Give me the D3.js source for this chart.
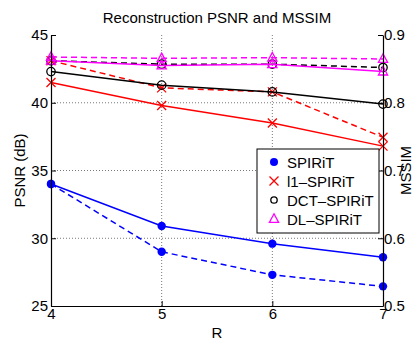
<!DOCTYPE html>
<html>
<head>
<meta charset="utf-8">
<script src="https://cdn.jsdelivr.net/npm/d3@7"></script>
<style>
  body { margin: 0; background: #fff; }
  svg { display: block; font-family: "Liberation Sans", Arial, sans-serif; }
</style>
</head>
<body>
<div id="chart"></div>
<script>
// R values on the x axis
const rValues = [4, 5, 6, 7];

// PSNR (dB), solid lines, left axis
const psnrSpirit = [34.0, 30.9, 29.6, 28.6];
const psnrL1 = [41.5, 39.8, 38.5, 36.8];
const psnrDct = [42.3, 41.3, 40.8, 39.9];
const psnrDl = [43.1, 42.75, 42.85, 42.3];

// MSSIM, dashed lines, right axis
const mssimSpirit = [0.680, 0.580, 0.546, 0.529];
const mssimL1 = [0.862, 0.822, 0.816, 0.749];
const mssimDct = [0.862, 0.857, 0.857, 0.852];
const mssimDl = [0.8675, 0.8656, 0.8665, 0.8646];

const seriesNames = ["SPIRiT", "l1\u2013SPIRiT", "DCT\u2013SPIRiT", "DL\u2013SPIRiT"];
const leftTicks = [25, 30, 35, 40, 45];
const rightTicks = [0.5, 0.6, 0.7, 0.8, 0.9];

const width = 416, height = 343;
const marginTop = 35, marginRight = 33, marginBottom = 37, marginLeft = 51;

const x = d3.scaleLinear().domain([4, 7]).range([marginLeft, width - marginRight]);
const yL = d3.scaleLinear().domain([25, 45]).range([height - marginBottom, marginTop]);
const yR = d3.scaleLinear().domain([0.5, 0.9]).range([height - marginBottom, marginTop]);

const styles = [
  { color: "#0000ff", marker: "dot" },
  { color: "#ff0000", marker: "x" },
  { color: "#000000", marker: "circle" },
  { color: "#ff00ff", marker: "tri" }
];

const psnr = [psnrSpirit, psnrL1, psnrDct, psnrDl];
const mssim = [mssimSpirit, mssimL1, mssimDct, mssimDl];

const svg = d3.select("#chart").append("svg")
  .attr("width", width)
  .attr("height", height);

// grid
const grid = svg.append("g")
  .attr("stroke", "#555")
  .attr("stroke-width", 0.8)
  .attr("stroke-dasharray", "1,2");
grid.selectAll("line.v")
  .data([5, 6])
  .join("line")
    .attr("x1", d => x(d)).attr("x2", d => x(d))
    .attr("y1", marginTop).attr("y2", height - marginBottom);
grid.selectAll("line.h")
  .data([30, 35, 40])
  .join("line")
    .attr("x1", marginLeft).attr("x2", width - marginRight)
    .attr("y1", d => yL(d)).attr("y2", d => yL(d));

function drawMarker(g, type, color) {
  if (type === "dot") {
    g.append("circle").attr("r", 4.2).attr("fill", color);
  } else if (type === "x") {
    g.append("path").attr("d", "M-4.5,-4.5L4.5,4.5M-4.5,4.5L4.5,-4.5")
      .attr("stroke", color).attr("stroke-width", 1.3).attr("fill", "none");
  } else if (type === "circle") {
    g.append("circle").attr("r", 4.2).attr("fill", "none")
      .attr("stroke", color).attr("stroke-width", 1.3);
  } else {
    g.append("path").attr("d", "M0,-5.2L4.6,3.4L-4.6,3.4Z").attr("fill", "none")
      .attr("stroke", color).attr("stroke-width", 1.3);
  }
}

function drawSeries(values, yScale, style, dashed) {
  const pts = values.map((v, i) => [x(rValues[i]), yScale(v)]);
  svg.append("path")
    .attr("d", d3.line()(pts))
    .attr("fill", "none")
    .attr("stroke", style.color)
    .attr("stroke-width", 1.5)
    .attr("stroke-dasharray", dashed ? "6,4" : null);
  pts.forEach(p => {
    const g = svg.append("g").attr("transform", `translate(${p[0]},${p[1]})`);
    drawMarker(g, style.marker, style.color);
  });
}

// MSSIM dashed first, then PSNR solid
mssim.forEach((s, i) => drawSeries(s, yR, styles[i], true));
psnr.forEach((s, i) => drawSeries(s, yL, styles[i], false));

// axes
const left = svg.append("g")
  .attr("transform", `translate(${marginLeft},0)`)
  .call(d3.axisLeft(yL).tickValues(leftTicks).tickSizeInner(-5).tickSizeOuter(0).tickPadding(3));
const right = svg.append("g")
  .attr("transform", `translate(${width - marginRight},0)`)
  .call(d3.axisRight(yR).tickValues(rightTicks).tickSizeInner(-5).tickSizeOuter(0).tickPadding(1)
    .tickFormat(d3.format(".1f")));
const bottom = svg.append("g")
  .attr("transform", `translate(0,${height - marginBottom})`)
  .call(d3.axisBottom(x).tickValues(rValues).tickSizeInner(-5).tickSizeOuter(0).tickPadding(2)
    .tickFormat(d3.format("d")));

[left, right, bottom].forEach(g => {
  g.attr("font-size", 15).attr("font-family", "Liberation Sans, Arial, sans-serif");
  g.selectAll("path.domain").attr("stroke", "#000").attr("stroke-width", 1.2);
  g.selectAll(".tick line").attr("stroke", "#000");
  g.selectAll(".tick text").attr("fill", "#000");
});

// title and labels
svg.append("text")
  .attr("x", (marginLeft + width - marginRight) / 2)
  .attr("y", 23)
  .attr("text-anchor", "middle")
  .attr("font-size", 15)
  .text("Reconstruction PSNR and MSSIM");

svg.append("text")
  .attr("x", (marginLeft + width - marginRight) / 2)
  .attr("y", 338)
  .attr("text-anchor", "middle")
  .attr("font-size", 15)
  .text("R");

svg.append("text")
  .attr("transform", `translate(25,${(marginTop + height - marginBottom) / 2}) rotate(-90)`)
  .attr("text-anchor", "middle")
  .attr("font-size", 15)
  .text("PSNR (dB)");

svg.append("text")
  .attr("transform", `translate(411,${(marginTop + height - marginBottom) / 2}) rotate(-90)`)
  .attr("text-anchor", "middle")
  .attr("font-size", 15)
  .text("MSSIM");

// legend
const legend = svg.append("g").attr("transform", "translate(257,149)");
legend.append("rect")
  .attr("width", 122).attr("height", 84)
  .attr("fill", "#fff").attr("stroke", "#000").attr("stroke-width", 1);
seriesNames.forEach((name, i) => {
  const row = legend.append("g").attr("transform", `translate(0,${13 + i * 19})`);
  const m = row.append("g").attr("transform", "translate(17,0)");
  drawMarker(m, styles[i].marker, styles[i].color);
  if (styles[i].marker === "circle") m.select("circle").attr("r", 3.2);
  if (styles[i].marker === "dot") m.select("circle").attr("r", 4);
  row.append("text")
    .attr("x", 30).attr("y", 5.5)
    .attr("font-size", 15)
    .text(name);
});
</script>
</body>
</html>
